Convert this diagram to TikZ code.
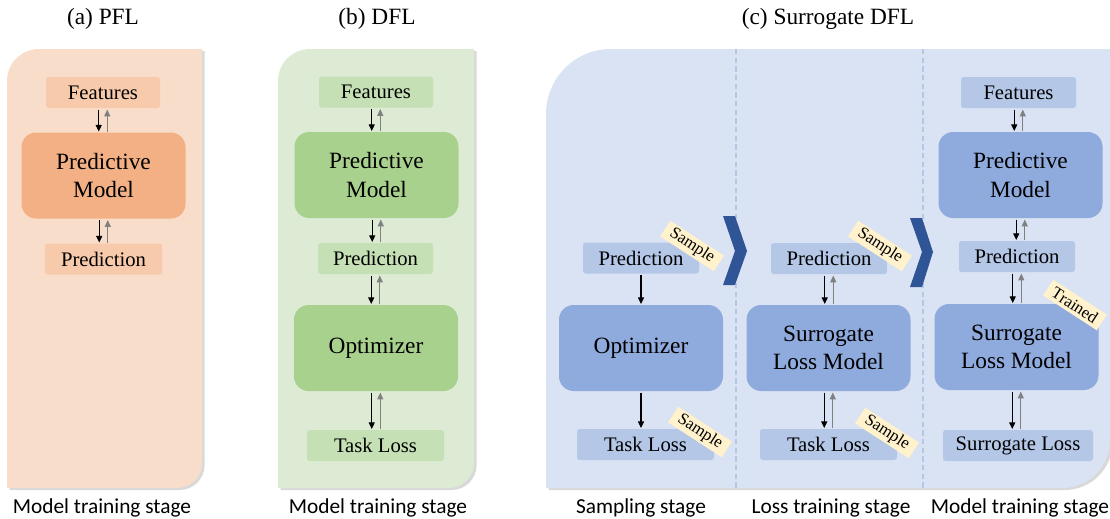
\documentclass[tikz,border=0pt]{standalone}
\usepackage{fontspec}
\setmainfont{Liberation Serif}
\newfontfamily\stagefont{Carlito}
\usetikzlibrary{arrows.meta,shadows}

\definecolor{panelA}{HTML}{F9DDCB}
\definecolor{smallA}{HTML}{F7CAAB}
\definecolor{bigA}{HTML}{F2B084}
\definecolor{panelB}{HTML}{DDEBD5}
\definecolor{smallB}{HTML}{C5E0B4}
\definecolor{bigB}{HTML}{A9D18E}
\definecolor{panelC}{HTML}{DAE3F3}
\definecolor{smallC}{HTML}{B4C7E7}
\definecolor{bigC}{HTML}{8FAADC}
\definecolor{chevron}{HTML}{2F5597}
\definecolor{tagfill}{HTML}{FFF2CC}
\definecolor{arrowgray}{HTML}{808080}
\definecolor{sepline}{HTML}{B4C7E7}

\begin{document}
\begin{tikzpicture}[x=0.75pt, y=-0.75pt,
  panel/.style={drop shadow={shadow xshift=2pt, shadow yshift=-1.5pt, opacity=0.3}},
  smallbox/.style={rounded corners=2pt, inner sep=0pt, minimum height=23.25pt, font=\fontsize{15.5}{18}\selectfont},
  bigbox/.style={rounded corners=11pt, inner sep=0pt, minimum width=123pt, minimum height=64.5pt, align=center, font=\fontsize{17.5}{21.5}\selectfont},
  tag/.style={fill=tagfill, rotate=-33, inner sep=0pt, minimum width=48pt, minimum height=14pt, font=\fontsize{12.5}{14}\selectfont},
  dn/.style={-{Triangle[length=5pt,width=4.5pt]}, line width=0.8pt, shorten <=1pt, shorten >=0.5pt},
  up/.style={-{Triangle[length=5pt,width=4.5pt]}, line width=0.6pt, draw=arrowgray, fill=arrowgray, shorten <=0.5pt, shorten >=1pt},
  title/.style={anchor=base, font=\fontsize{17.5}{20}\selectfont},
  stage/.style={anchor=base, font=\stagefont\fontsize{16}{18}\selectfont},
  sep/.style={draw=sepline, line width=0.8pt, dash pattern=on 4pt off 2.5pt},
  chev/.style={fill=chevron}]
\useasboundingbox (0,0) rectangle (1110,518);

% Paneles
\fill[panel, panelA] (7,488) -- (7,81) .. controls (7,63.3) and (21.3,49) .. (39,49) -- (202,49) -- (202,463) .. controls (202,476.8) and (190.8,488) .. (177,488) -- cycle;
\fill[panel, panelB] (278,488) -- (278,81) .. controls (278,63.3) and (292.3,49) .. (310,49) -- (474,49) -- (474,463) .. controls (474,476.8) and (462.8,488) .. (449,488) -- cycle;
\fill[panel, panelC] (546,488) -- (546,114) .. controls (546,78.1) and (575.1,49) .. (611,49) -- (1110,49) -- (1110,440) .. controls (1110,466.5) and (1088.5,488) .. (1062,488) -- cycle;

% Separadores y flechas de etapa
\draw[sep] (736,49) -- (736,488);
\draw[sep] (923,49) -- (923,488);
\fill[chev] (723,216) -- (735,216) -- (747,251) -- (735,285) -- (723,285) -- (735,251) -- cycle;
\fill[chev] (910,218) -- (922,218) -- (933,252) -- (922,287) -- (910,287) -- (922,252) -- cycle;

% Titulos
\node[title] (titA) at (103,24) {(a) PFL};
\node[title] (titB) at (377,24) {(b) DFL};
\node[title] (titC) at (828,24) {(c) Surrogate DFL};

% (a) PFL
\node[smallbox, fill=smallA, minimum width=85.5pt] (featA) at (103,92.5) {Features};
\node[bigbox, fill=bigA] (pmA) at (103.5,175.5) {Predictive\\Model};
\node[smallbox, fill=smallA, minimum width=88pt] (predA) at (103.5,259) {Prediction};

% (b) DFL
\node[smallbox, fill=smallB, minimum width=85.5pt] (featB) at (376,92) {Features};
\node[bigbox, fill=bigB] (pmB) at (376.5,175) {Predictive\\Model};
\node[smallbox, fill=smallB, minimum width=86.25pt] (predB) at (375.5,258.5) {Prediction};
\node[bigbox, fill=bigB] (optB) at (376,348) {Optimizer};
\node[smallbox, fill=smallB, minimum width=102.75pt] (tlB) at (375.5,445.5) {Task Loss};

% (c) Surrogate DFL
\node[smallbox, fill=smallC, minimum width=87pt] (predS) at (641,258) {Prediction};
\node[bigbox, fill=bigC] (optS) at (641,348) {Optimizer};
\node[smallbox, fill=smallC, minimum width=102.75pt] (tlS) at (645.5,444.5) {Task Loss};

\node[smallbox, fill=smallC, minimum width=87pt] (predL) at (829,258.5) {Prediction};
\node[bigbox, fill=bigC] (slmL) at (828.5,348) {Surrogate\\Loss Model};
\node[smallbox, fill=smallC, minimum width=102.75pt] (tlL) at (828.5,444.5) {Task Loss};

\node[smallbox, fill=smallC, minimum width=86.25pt] (featM) at (1018.5,92.5) {Features};
\node[bigbox, fill=bigC] (pmM) at (1020.5,175) {Predictive\\Model};
\node[smallbox, fill=smallC, minimum width=87pt] (predM) at (1017,256.5) {Prediction};
\node[bigbox, fill=bigC] (slmM) at (1016.5,347) {Surrogate\\Loss Model};
\node[smallbox, fill=smallC, minimum width=112.5pt] (slM) at (1018,445.5) {Surrogate Loss};

% Flechas
\draw[dn] ([xshift=-3.2pt]featA.south) -- ([xshift=-3.2pt]featA.south |- pmA.north); \draw[up] ([xshift=3.2pt]featA.south |- pmA.north) -- ([xshift=3.2pt]featA.south);
\draw[dn] ([xshift=-3.2pt]pmA.south) -- ([xshift=-3.2pt]pmA.south |- predA.north); \draw[up] ([xshift=3.2pt]pmA.south |- predA.north) -- ([xshift=3.2pt]pmA.south);

\draw[dn] ([xshift=-3.2pt]featB.south) -- ([xshift=-3.2pt]featB.south |- pmB.north); \draw[up] ([xshift=3.2pt]featB.south |- pmB.north) -- ([xshift=3.2pt]featB.south);
\draw[dn] ([xshift=-3.2pt]pmB.south) -- ([xshift=-3.2pt]pmB.south |- predB.north); \draw[up] ([xshift=3.2pt]pmB.south |- predB.north) -- ([xshift=3.2pt]pmB.south);
\draw[dn] ([xshift=-3.2pt]predB.south) -- ([xshift=-3.2pt]predB.south |- optB.north); \draw[up] ([xshift=3.2pt]predB.south |- optB.north) -- ([xshift=3.2pt]predB.south);
\draw[dn] ([xshift=-3.2pt]optB.south) -- ([xshift=-3.2pt]optB.south |- tlB.north); \draw[up] ([xshift=3.2pt]optB.south |- tlB.north) -- ([xshift=3.2pt]optB.south);

\draw[dn] (predS.south) -- (predS.south |- optS.north);
\draw[dn] (optS.south) -- (optS.south |- tlS.north);

\draw[dn] ([xshift=-3.2pt]predL.south) -- ([xshift=-3.2pt]predL.south |- slmL.north); \draw[up] ([xshift=3.2pt]predL.south |- slmL.north) -- ([xshift=3.2pt]predL.south);
\draw[dn] ([xshift=-3.2pt]slmL.south) -- ([xshift=-3.2pt]slmL.south |- tlL.north); \draw[up] ([xshift=3.2pt]slmL.south |- tlL.north) -- ([xshift=3.2pt]slmL.south);

\draw[dn] ([xshift=-3.2pt]featM.south) -- ([xshift=-3.2pt]featM.south |- pmM.north); \draw[up] ([xshift=3.2pt]featM.south |- pmM.north) -- ([xshift=3.2pt]featM.south);
\draw[dn] ([xshift=-3.2pt]pmM.south) -- ([xshift=-3.2pt]pmM.south |- predM.north); \draw[up] ([xshift=3.2pt]pmM.south |- predM.north) -- ([xshift=3.2pt]pmM.south);
\draw[dn] ([xshift=-3.2pt]predM.south) -- ([xshift=-3.2pt]predM.south |- slmM.north); \draw[up] ([xshift=3.2pt]predM.south |- slmM.north) -- ([xshift=3.2pt]predM.south);
\draw[dn] ([xshift=-3.2pt]slmM.south) -- ([xshift=-3.2pt]slmM.south |- slM.north); \draw[up] ([xshift=3.2pt]slmM.south |- slM.north) -- ([xshift=3.2pt]slmM.south);

% Etiquetas
\node[tag] (tagS1) at (692,246) {Sample};
\node[tag] (tagS2) at (700,432) {Sample};
\node[tag] (tagL1) at (880,246) {Sample};
\node[tag] (tagL2) at (887,433) {Sample};
\node[tag] (tagM) at (1075,305) {Trained};

% Etapas
\node[stage] (stA) at (102,513.5) {Model training stage};
\node[stage] (stB) at (378,513.5) {Model training stage};
\node[stage] (stS) at (641,513.5) {Sampling stage};
\node[stage] (stL) at (831,513.5) {Loss training stage};
\node[stage] (stM) at (1020,513.5) {Model training stage};
\end{tikzpicture}
\end{document}
